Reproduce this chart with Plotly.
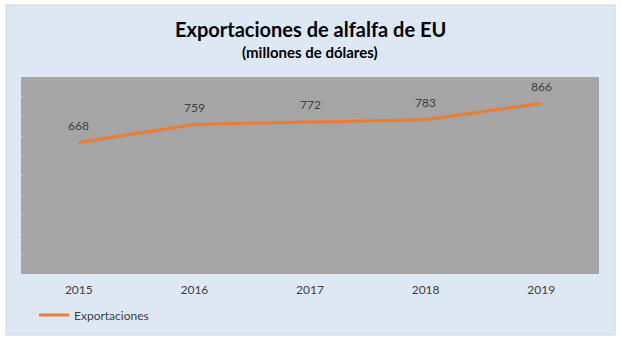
import plotly.graph_objects as go

years = ["2015", "2016", "2017", "2018", "2019"]
exports = [668, 759, 772, 783, 866]
series_name = "Exportaciones"

W, H = 621, 344
L, R, T, B = 21, 599, 77, 274
FONT = "Lato, Open Sans, sans-serif"

fig = go.Figure()
fig.add_trace(go.Scatter(
    x=years, y=exports, mode="lines", name=series_name,
    line=dict(color="#ed7d31", width=3),
))

for i, v in enumerate(exports):
    fig.add_annotation(x=i, y=v, xref="x", yref="y", text=str(v), showarrow=False, yshift=17,
                       xanchor="center", yanchor="middle",
                       font=dict(family=FONT, size=12, color="#404040"))

def px_x(p):
    return (p - L) / (R - L)

def px_y(p):
    return (B - p) / (B - T)

fig.add_shape(type="rect", xref="paper", yref="paper",
              x0=px_x(6), x1=px_x(615), y0=px_y(335), y1=px_y(5),
              fillcolor="#dee8f4", line=dict(color="#d4d4d4", width=1), layer="below")
fig.add_shape(type="rect", xref="paper", yref="paper",
              x0=0, x1=1, y0=0, y1=1,
              fillcolor="#a5a5a5", line=dict(width=0), layer="below")

fig.add_annotation(text="<b>Exportaciones de alfalfa de EU</b>", xref="paper", yref="paper",
                   x=px_x(310), y=px_y(29), showarrow=False, xanchor="center", yanchor="middle",
                   font=dict(family=FONT, size=20, color="#000000"))
fig.add_annotation(text="<b>(millones de dólares)</b>", xref="paper", yref="paper",
                   x=px_x(310), y=px_y(52), showarrow=False, xanchor="center", yanchor="middle",
                   font=dict(family=FONT, size=15, color="#000000"))

fig.update_layout(
    width=W, height=H,
    margin=dict(l=L, r=W - R, t=T, b=H - B, pad=0),
    paper_bgcolor="#ffffff", plot_bgcolor="#a5a5a5",
    showlegend=True,
    legend=dict(orientation="h", x=px_x(34), y=px_y(315), xanchor="left", yanchor="middle",
                bgcolor="rgba(0,0,0,0)", itemwidth=30,
                font=dict(family=FONT, size=12, color="#404040")),
    xaxis=dict(type="category", range=[-0.5, 4.5], showgrid=False, zeroline=False,
               showline=False, ticks="", ticklabelstandoff=7,
               tickfont=dict(family=FONT, size=12, color="#404040")),
    yaxis=dict(range=[0, 1000], dtick=100, showgrid=False,
               showticklabels=False, zeroline=False, showline=False,
               ticks="inside", ticklen=2, tickcolor="#c8c8c8"),
)

fig.write_html("out.html")
